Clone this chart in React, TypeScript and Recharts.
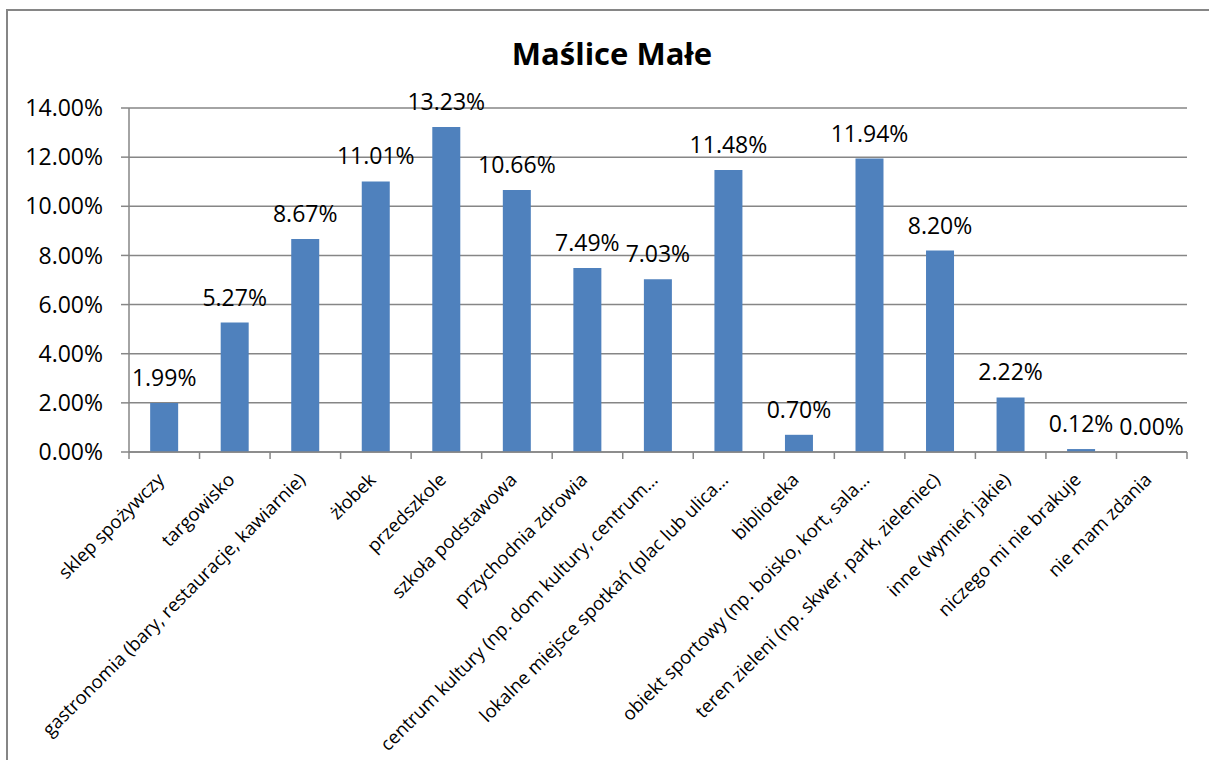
import React from 'react';
import { BarChart, Bar, XAxis, YAxis, CartesianGrid, LabelList } from 'recharts';

/* ---------------------------------------
   DATA
---------------------------------------- */
const categories = [
  'sklep spożywczy',
  'targowisko',
  'gastronomia (bary, restauracje, kawiarnie)',
  'żłobek',
  'przedszkole',
  'szkoła podstawowa',
  'przychodnia zdrowia',
  'centrum kultury (np. dom kultury, centrum…',
  'lokalne miejsce spotkań (plac lub ulica…',
  'biblioteka',
  'obiekt sportowy (np. boisko, kort, sala…',
  'teren zieleni (np. skwer, park, zieleniec)',
  'inne (wymień jakie)',
  'niczego mi nie brakuje',
  'nie mam zdania',
];

const shares = [1.99, 5.27, 8.67, 11.01, 13.23, 10.66, 7.49, 7.03, 11.48, 0.7, 11.94, 8.2, 2.22, 0.12, 0.0];

const yTicks = [0, 2, 4, 6, 8, 10, 12, 14];

const title = 'Maślice Małe';

/* ---------------------------------------
   LAYOUT
---------------------------------------- */
const WIDTH = 1209;
const HEIGHT = 760;
const PLOT_LEFT = 129;
const PLOT_RIGHT = 1187;
const PLOT_TOP = 108;
const PLOT_BOTTOM = 452;
const BAND = (PLOT_RIGHT - PLOT_LEFT) / categories.length;

const FONT = '"Open Sans", "Noto Sans", sans-serif';
const GRID = '#868686';
const BAR = '#4F81BD';

const fmt = (v: number) => `${Number(v).toFixed(2)}%`;

const data = categories.map((name, i) => ({ name, value: shares[i], label: fmt(shares[i]) }));

function CategoryTick(props: any) {
  const { x, y, payload, index } = props;
  const left = x - BAND / 2;
  const last = index === categories.length - 1;
  const ax = x + 1;
  const ay = y + 29;
  return (
    <g>
      <line x1={left} x2={left} y1={y} y2={y + 7} stroke={GRID} strokeWidth={1.5} />
      {last && (
        <line x1={x + BAND / 2} x2={x + BAND / 2} y1={y} y2={y + 7} stroke={GRID} strokeWidth={1.5} />
      )}
      <text
        x={ax}
        y={ay}
        transform={`rotate(-45, ${ax}, ${ay})`}
        textAnchor="end"
        fontSize={18.5}
        fontFamily={FONT}
        fill="#000"
      >
        {payload.value}
      </text>
    </g>
  );
}

export default function App() {
  return (
    <div style={{ position: 'absolute', left: 0, top: 0, width: WIDTH, height: HEIGHT, background: '#fff', overflow: 'hidden' }}>
      {/* outer frame */}
      <div
        style={{
          position: 'absolute',
          left: 6,
          top: 9,
          width: WIDTH,
          height: HEIGHT,
          borderLeft: `2px solid ${GRID}`,
          borderTop: `2px solid ${GRID}`,
        }}
      />

      {/* title */}
      <div
        style={{
          position: 'absolute',
          left: 7,
          width: 1210,
          top: 33,
          textAlign: 'center',
          fontFamily: FONT,
          fontWeight: 'bold',
          fontSize: 31,
          lineHeight: '40px',
          color: '#000',
        }}
      >
        {title}
      </div>

      <div style={{ position: 'absolute', left: 0, top: 0 }}>
        <BarChart
          width={WIDTH}
          height={HEIGHT}
          data={data}
          margin={{ top: PLOT_TOP, right: WIDTH - PLOT_RIGHT, left: 0, bottom: 0 }}
          barCategoryGap="30%"
        >
          <CartesianGrid vertical={false} stroke={GRID} strokeWidth={1.5} />
          <XAxis
            dataKey="name"
            interval={0}
            height={HEIGHT - PLOT_BOTTOM}
            tickSize={0}
            tickMargin={0}
            axisLine={{ stroke: GRID, strokeWidth: 1.5 }}
            tick={<CategoryTick />}
          />
          <YAxis
            width={PLOT_LEFT}
            domain={[0, 14]}
            ticks={yTicks}
            tickFormatter={fmt}
            tickSize={8}
            tickMargin={18}
            axisLine={{ stroke: GRID, strokeWidth: 1.5 }}
            tickLine={{ stroke: GRID, strokeWidth: 1.5 }}
            tick={{ fill: '#000', fontSize: 23, fontFamily: FONT }}
          />
          <Bar dataKey="value" fill={BAR} minPointSize={0.01} isAnimationActive={false}>
            <LabelList
              dataKey="label"
              position="top"
              offset={17}
              fill="#000"
              fontSize={23}
              fontFamily={FONT}
            />
          </Bar>
        </BarChart>
      </div>
    </div>
  );
}
